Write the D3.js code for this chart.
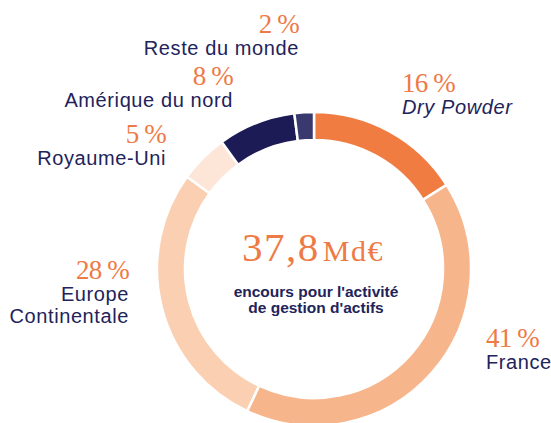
<!DOCTYPE html>
<html>
<head>
<meta charset="utf-8">
<script src="https://cdn.jsdelivr.net/npm/d3@7"></script>
<style>
  body { margin: 0; background: #fff; }
  .pct { font-family: 'Liberation Serif', serif; fill: #ee7a45; font-size: 27px; letter-spacing: -0.8px; }
  .lab { font-family: 'Liberation Sans', Arial, sans-serif; fill: #22235a; font-size: 20px; letter-spacing: 0.6px; }
  .sub { font-family: 'Liberation Sans', Arial, sans-serif; fill: #22235a; font-size: 15.5px; font-weight: bold; }
</style>
</head>
<body>
<svg id="d" width="551" height="423"></svg>
<script>
(function (d3) {
  'use strict';

  // segments, clockwise from 12 o'clock
  const categories = ['Dry Powder', 'France', 'Europe Continentale', 'Royaume-Uni', 'Amérique du nord', 'Reste du monde'];
  const values = [16, 41, 28, 5, 8, 2];
  const colors = ['#f07c42', '#f7b58c', '#fbcfb1', '#fde6d8', '#1c1b55', '#3a396f'];
  const totalText = '37,8';
  const totalUnit = 'Md€';
  const subLines = ["encours pour l'activité", "de gestion d'actifs"];

  // label layout: [x, percent baseline, anchor, label lines]
  const labelLayout = [
    { x: 402, y: 92, anchor: 'start', lines: ['Dry Powder'], italic: true },
    { x: 486, y: 347, anchor: 'start', lines: ['France'] },
    { x: 129, y: 279, anchor: 'end', lines: ['Europe', 'Continentale'] },
    { x: 166, y: 143, anchor: 'end', lines: ['Royaume-Uni'] },
    { x: 233, y: 85, anchor: 'end', lines: ['Amérique du nord'] },
    { x: 299, y: 33, anchor: 'end', lines: ['Reste du monde'] }
  ];

  const svg = d3.select('#d');
  const cx = 314, cy = 269;
  const outerR = 157, innerR = 129;

  const data = categories.map((c, i) => ({ name: c, value: values[i], color: colors[i] }));

  const pie = d3.pie().sort(null).value(d => d.value);
  const arc = d3.arc().innerRadius(innerR).outerRadius(outerR);

  const g = svg.append('g')
    .attr('transform', `translate(${cx},${cy})`);

  g.selectAll('path').data(pie(data))
    .enter().append('path')
      .attr('d', arc)
      .attr('fill', d => d.data.color)
      .attr('stroke', '#fff')
      .attr('stroke-width', 2.5);

  // centre
  const t = g.append('text')
      .attr('text-anchor', 'middle')
      .attr('x', -1)
      .attr('y', -8)
      .attr('fill', '#ee7a45')
      .style('font-family', "'Liberation Serif', serif");
  t.append('tspan').attr('font-size', 41).style('letter-spacing', '1.5px').text(totalText);
  t.append('tspan').attr('font-size', 30).attr('dx', 3).style('letter-spacing', '1.5px').text(totalUnit);

  g.selectAll('.sub').data(subLines)
    .enter().append('text')
      .attr('class', 'sub')
      .attr('text-anchor', 'middle')
      .attr('x', 2)
      .attr('y', (d, i) => 28 + i * 16)
      .text(d => d);

  // labels
  labelLayout.forEach((l, i) => {
    svg.append('text')
        .attr('class', 'pct')
        .attr('x', l.x)
        .attr('y', l.y)
        .attr('text-anchor', l.anchor)
        .text(`${values[i]} %`);
    l.lines.forEach((line, j) => {
      svg.append('text')
          .attr('class', 'lab')
          .attr('x', l.x)
          .attr('y', l.y + 22 + j * 22)
          .attr('text-anchor', l.anchor)
          .style('font-style', l.italic ? 'italic' : null)
          .text(line);
    });
  });

}(d3));
</script>
</body>
</html>
